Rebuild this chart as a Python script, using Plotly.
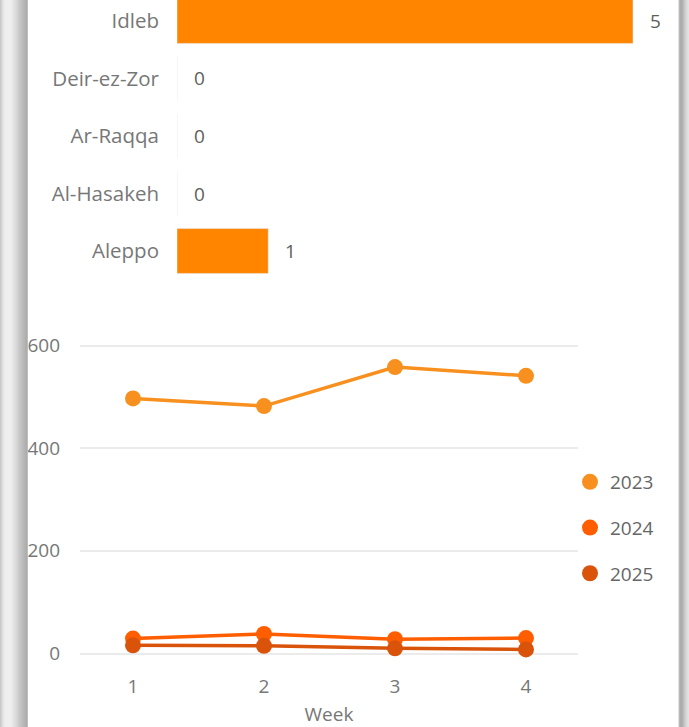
import plotly.graph_objects as go

# ---- data ----
regions = ["Aleppo", "Al-Hasakeh", "Ar-Raqqa", "Deir-ez-Zor", "Idleb"]
region_counts = [1, 0, 0, 0, 5]

weeks = [1, 2, 3, 4]
series_names = ["2023", "2024", "2025"]
values_2023 = [497, 482, 558, 541]
values_2024 = [29, 38, 28, 30]
values_2025 = [16, 15, 10, 8]

W, H = 689, 727
FONT = "Open Sans, Noto Sans, sans-serif"
LABEL_GREY = "#777777"
VALUE_GREY = "#605E5C"

def px_x(p):
    return p / W

def px_y(p):
    return 1 - p / H

fig = go.Figure()

# ---- bar chart (top) ----
fig.add_trace(go.Bar(
    x=region_counts, y=regions, orientation="h",
    marker=dict(color="#FF8500"), width=0.78,
    xaxis="x", yaxis="y", showlegend=False, hoverinfo="x+y",
))
for r, v in zip(regions, region_counts):
    fig.add_annotation(
        x=v, y=r, xref="x", yref="y", text=str(v), showarrow=False,
        xanchor="left", xshift=15, font=dict(family=FONT, size=19, color=VALUE_GREY),
    )

# ---- line chart (bottom) ----
colors = ["#F7901E", "#FF5E00", "#D9530A"]
for name, vals, c in zip(series_names, [values_2023, values_2024, values_2025], colors):
    fig.add_trace(go.Scatter(
        x=weeks, y=vals, mode="lines+markers", name=name,
        line=dict(color=c, width=3.5), marker=dict(color=c, size=16),
        xaxis="x2", yaxis="y2", showlegend=False, cliponaxis=False,
    ))
for name, c in zip(series_names, colors):
    fig.add_trace(go.Scatter(
        x=[None], y=[None], mode="markers", name=name, legendgroup=name,
        marker=dict(color=c, size=16), xaxis="x2", yaxis="y2",
    ))

# ---- frame shadow ----
left_cols = [200, 212, 222, 230, 235, 238, 239, 239, 239, 239, 238, 236, 232, 228,
             224, 220, 215, 210, 205, 200, 196, 192, 188, 184, 180, 176, 172, 190]
right_cols = [225, 185, 172, 170, 178, 188, 198, 208, 216, 222, 226]
shapes = []
for i, g in enumerate(left_cols):
    shapes.append(dict(type="rect", xref="paper", yref="paper", x0=px_x(i), x1=px_x(i + 1),
                       y0=0, y1=1, fillcolor=f"rgb({g},{g},{g})", line=dict(width=0), layer="above"))
for i, g in enumerate(right_cols):
    p = 678 + i
    shapes.append(dict(type="rect", xref="paper", yref="paper", x0=px_x(p), x1=px_x(p + 1),
                       y0=0, y1=1, fillcolor=f"rgb({g},{g},{g})", line=dict(width=0), layer="above"))

fig.update_layout(
    width=W, height=H,
    margin=dict(l=0, r=0, t=0, b=0),
    paper_bgcolor="white", plot_bgcolor="white",
    font=dict(family=FONT, color=LABEL_GREY, size=19),
    shapes=shapes,
    xaxis=dict(domain=[px_x(177), px_x(660)], range=[0, 5 * 483 / 456],
               visible=False, fixedrange=True),
    yaxis=dict(domain=[px_y(290), px_y(0)], type="category",
               categoryorder="array", categoryarray=regions,
               range=[-0.678, 4.365], showgrid=False, zeroline=False, showline=False,
               ticks="", ticklabelstandoff=17,
               tickfont=dict(family=FONT, size=20.5, color=LABEL_GREY)),
    xaxis2=dict(domain=[px_x(80), px_x(578)], range=[0.5954, 4.397],
                tickvals=weeks, showgrid=False, zeroline=False, showline=False,
                ticks="", ticklabelstandoff=8,
                tickfont=dict(family=FONT, size=19, color=LABEL_GREY),
                title=dict(text="Week", standoff=10,
                           font=dict(family=FONT, size=19, color=LABEL_GREY)),
                anchor="y2"),
    yaxis2=dict(domain=[px_y(665), px_y(320)], range=[-22.4, 649.7],
                tickvals=[0, 200, 400, 600], showgrid=True, gridcolor="#EBEBEB", gridwidth=2,
                zeroline=False, showline=False, ticks="", ticklabelstandoff=19,
                tickfont=dict(family=FONT, size=19, color=LABEL_GREY),
                anchor="x2"),
    legend=dict(x=px_x(570), y=px_y(463), xanchor="left", yanchor="top",
                font=dict(family=FONT, size=19, color="#666666"),
                traceorder="grouped", tracegroupgap=18, itemsizing="trace",
                bgcolor="rgba(0,0,0,0)"),
)

fig.write_html("out.html", config={"displayModeBar": False},
               post_script="document.body.style.margin='0';document.body.style.overflow='hidden';")
